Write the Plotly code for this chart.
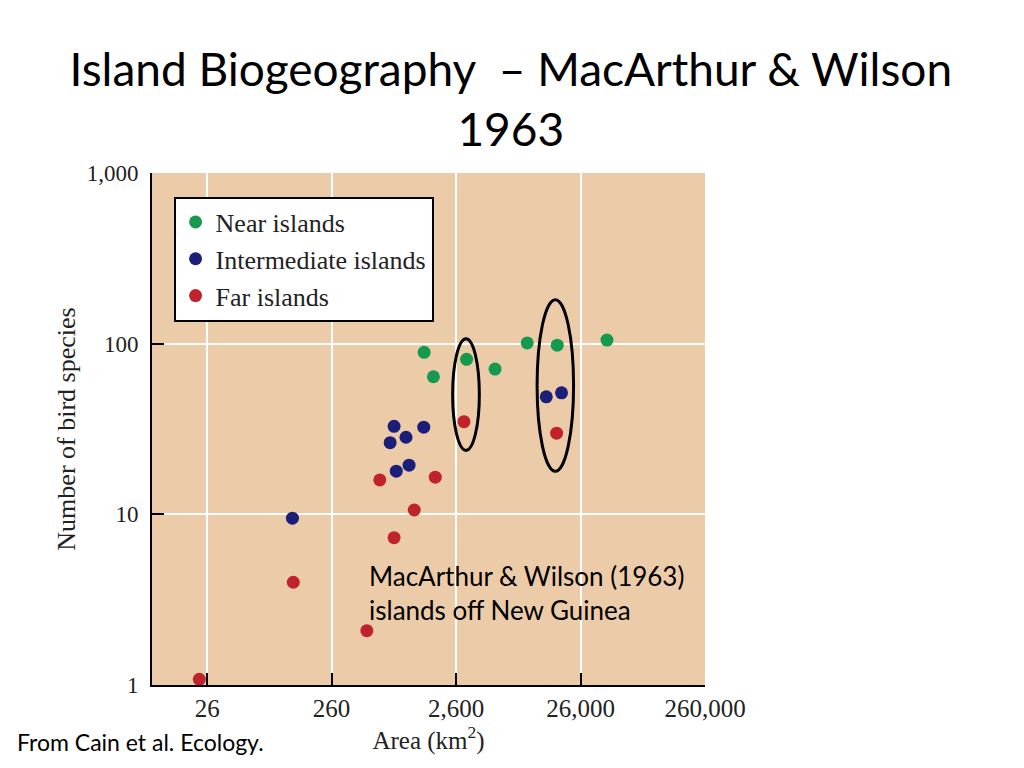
import plotly.graph_objects as go

# Area (km2) and number of bird species
near_area = [1440, 1710, 3160, 5350, 9700, 16900, 42400]
near_species = [89, 64, 81, 71, 101, 98, 105]

mid_area = [826, 1430, 1030, 768, 1090, 860, 126, 13800, 18300]
mid_species = [32.8, 32.4, 28.3, 26.3, 19.4, 17.9, 9.5, 48.8, 51.5]

far_area = [634, 1770, 1200, 826, 128, 499, 22.5, 3010, 16700]
far_species = [15.9, 16.5, 10.6, 7.3, 4.0, 2.08, 1.08, 34.9, 29.9]

x_ticks = [26, 260, 2600, 26000, 260000]
x_tick_text = ["26", "260", "2,600", "26,000", "260,000"]
y_ticks = [1, 10, 100, 1000]
y_tick_text = ["1", "10", "100", "1,000"]

# highlighted island pairs (area range, species range)
ellipses = [
    ((2440, 4000), (23.7, 107)),
    ((11640, 22860), (17.9, 181)),
]

serif = "Liberation Serif"
sans = "Lato"

fig = go.Figure()

series = [
    ("Near islands", near_area, near_species, "#14994f"),
    ("Intermediate islands", mid_area, mid_species, "#1c1f7a"),
    ("Far islands", far_area, far_species, "#c0232e"),
]
for name, xs, ys, color in series:
    fig.add_trace(go.Scatter(
        x=xs, y=ys, mode="markers", name=name, legendgroup=name,
        marker=dict(size=13, color=color, line=dict(width=0)),
    ))

for (x0, x1), (y0, y1) in ellipses:
    fig.add_shape(type="circle", xref="x", yref="y",
                  x0=x0, x1=x1, y0=y0, y1=y1,
                  line=dict(color="black", width=3))

axis_common = dict(
    type="log", showgrid=True, gridcolor="white", gridwidth=2,
    showline=True, linecolor="black", linewidth=2,
    ticks="inside", ticklen=12, tickwidth=2, tickcolor="black",
    zeroline=False,
)

fig.update_xaxes(
    **axis_common, range=[0.972, 5.415],
    tickvals=x_ticks, ticktext=x_tick_text, ticklabelstandoff=0,
    tickfont=dict(family=serif, size=25, color="#222"),
    title=dict(text="Area (km<sup>2</sup>)", font=dict(family=serif, size=25, color="#222"), standoff=4),
)
fig.update_yaxes(
    **axis_common, range=[0, 3],
    tickvals=y_ticks, ticktext=y_tick_text, ticklabelstandoff=7,
    tickfont=dict(family=serif, size=23, color="#222"),
    title=dict(text="Number of bird species", font=dict(family=serif, size=26, color="#222"), standoff=4),
)

fig.add_annotation(
    text="MacArthur &amp; Wilson (1963)<br>islands off New Guinea",
    xref="paper", yref="paper", x=0.388, y=0.248,
    xanchor="left", yanchor="top", align="left", showarrow=False,
    font=dict(family=sans, size=26, color="black"),
)
fig.add_annotation(
    text="From Cain et al. Ecology.",
    xref="paper", yref="paper", x=-0.247, y=-0.112,
    xanchor="left", yanchor="middle", showarrow=False,
    font=dict(family=sans, size=23, color="black"),
)

fig.update_layout(
    width=1024, height=768,
    margin=dict(l=144, r=327, t=165, b=91),
    paper_bgcolor="white", plot_bgcolor="#ecccA8",
    title=dict(
        text="Island Biogeography  \u2013 MacArthur &amp; Wilson<br>1963",
        x=0.491, xanchor="center", y=0.898, yanchor="top",
        font=dict(family=sans, size=46, color="black"),
    ),
    showlegend=True,
    legend=dict(
        x=0.039, y=0.954, xanchor="left", yanchor="top",
        bgcolor="white", bordercolor="black", borderwidth=2,
        font=dict(family=serif, size=26, color="#222"),
        tracegroupgap=0, traceorder="grouped",
    ),
)

fig.write_html("out.html")
